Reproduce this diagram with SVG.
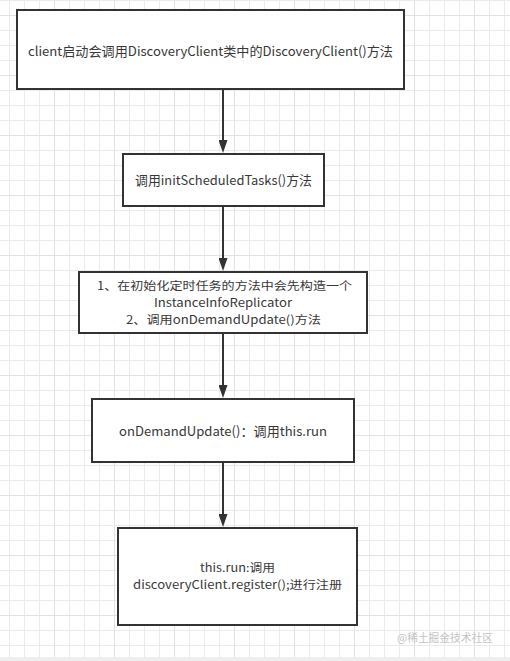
<svg xmlns="http://www.w3.org/2000/svg" width="510" height="661" viewBox="0 0 510 661">
  <defs>
    <pattern id="minor" patternUnits="userSpaceOnUse" x="9" y="0" width="15" height="15">
      <path d="M0.5 0V15M0 0.5H15" fill="none" stroke="#ebebeb" stroke-width="1"/>
    </pattern>
    <pattern id="major" patternUnits="userSpaceOnUse" x="54" y="15" width="60" height="60">
      <path d="M0.5 0V60M0 0.5H60" fill="none" stroke="#e2e2e2" stroke-width="1"/>
    </pattern>
    <marker id="arrow" viewBox="0 0 13 9" refX="5" refY="4.5" markerWidth="13" markerHeight="9" markerUnits="userSpaceOnUse" orient="auto">
      <path d="M0,0 L13,4.5 L0,9 z" fill="#333333"/>
    </marker>
    <style>
      .box { fill: #ffffff; stroke: #333333; stroke-width: 2; }
      .lbl { font-family: "Microsoft YaHei", "Noto Sans CJK SC", "Noto Sans", sans-serif; font-size: 13px; fill: #383838; text-anchor: middle; }
      .ml { font-size: 11.6px; }
      .conn { stroke: #333333; stroke-width: 2; fill: none; marker-end: url(#arrow); }
      .wm { font-family: "Noto Sans CJK SC", sans-serif; font-size: 11.5px; fill: #c4c4c4; }
    </style>
  </defs>
  <rect x="0" y="0" width="510" height="661" fill="#ffffff"/>
  <rect x="0" y="0" width="510" height="657" fill="url(#minor)"/>
  <rect x="0" y="0" width="510" height="657" fill="url(#major)"/>
  <rect x="0" y="657" width="510" height="4" fill="#eeeeee"/>

  <g id="connectors">
    <line class="conn" x1="223" y1="90" x2="223" y2="145"/>
    <line class="conn" x1="223" y1="207" x2="223" y2="263"/>
    <line class="conn" x1="223" y1="334" x2="223" y2="390"/>
    <line class="conn" x1="223" y1="463" x2="223" y2="519"/>
  </g>

  <g id="node1">
    <rect class="box" x="17" y="10" width="387" height="79"/>
    <text class="lbl" x="210.5" y="56" textLength="365" lengthAdjust="spacingAndGlyphs">client启动会调用DiscoveryClient类中的DiscoveryClient()方法</text>
  </g>
  <g id="node2">
    <rect class="box" x="123" y="154" width="201" height="52"/>
    <text class="lbl" x="223.5" y="185" textLength="177" lengthAdjust="spacingAndGlyphs">调用initScheduledTasks()方法</text>
  </g>
  <g id="node3">
    <rect class="box" x="79" y="272" width="288" height="61"/>
    <text class="lbl ml" x="224.5" y="290" textLength="255" lengthAdjust="spacingAndGlyphs">1、在初始化定时任务的方法中会先构造一个</text>
    <text class="lbl ml" x="223" y="307" textLength="138" lengthAdjust="spacingAndGlyphs">InstanceInfoReplicator</text>
    <text class="lbl ml" x="223.5" y="324" textLength="195" lengthAdjust="spacingAndGlyphs">2、调用onDemandUpdate()方法</text>
  </g>
  <g id="node4">
    <rect class="box" x="92" y="399" width="262" height="63"/>
    <text class="lbl" x="223" y="436" textLength="208" lengthAdjust="spacingAndGlyphs">onDemandUpdate()：调用this.run</text>
  </g>
  <g id="node5">
    <rect class="box" x="118" y="528" width="239" height="97"/>
    <text class="lbl ml" x="237.5" y="572" textLength="75" lengthAdjust="spacingAndGlyphs">this.run:调用</text>
    <text class="lbl ml" x="237.5" y="589" textLength="209" lengthAdjust="spacingAndGlyphs">discoveryClient.register();进行注册</text>
  </g>
  <text class="wm" x="397" y="642" textLength="96" lengthAdjust="spacingAndGlyphs">@稀土掘金技术社区</text>
</svg>
